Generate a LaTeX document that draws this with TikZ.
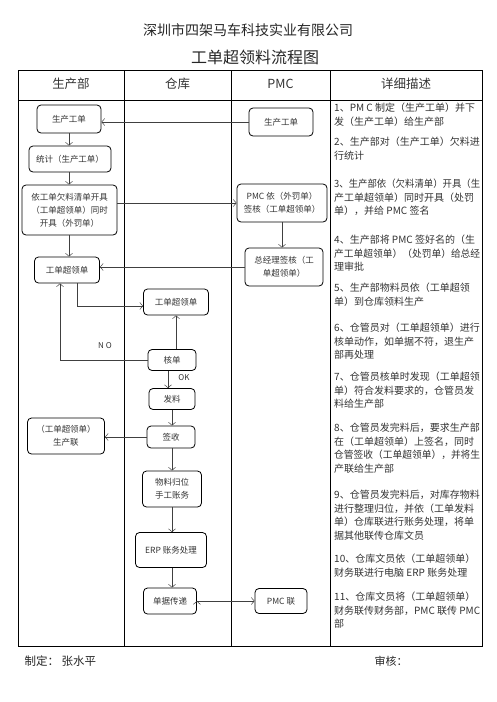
\documentclass[tikz,border=0pt]{standalone}
\usepackage{fontspec}
\setmainfont{Noto Sans CJK SC}
\usepackage{graphicx}
\usetikzlibrary{arrows.meta}

% squeeze a description line that is wider than the column
\newlength\desclen
\newcommand\dline[1]{\settowidth\desclen{#1}%
  \ifdim\desclen>146pt\resizebox{146pt}{\height}{#1}\else#1\fi}

\tikzset{
  proc/.style={draw, rounded corners=4pt, line width=0.8pt, inner sep=1pt,
    align=center, text=black!80, font=\fontsize{8.5}{13}\selectfont},
  head/.style={text=black!80, font=\fontsize{12.5}{14}\selectfont},
  desc/.style={anchor=north west, inner sep=0pt, align=left, text=black!80,
    font=\fontsize{10}{13.5}\selectfont},
  flow/.style={->, line width=0.5pt, draw=black!75},
  grid/.style={line width=0.8pt}
}

\begin{document}
\begin{tikzpicture}[x=1pt,y=-1pt,>={Straight Barb[length=3pt,width=7pt]}]
\useasboundingbox (0,0) rectangle (496,702);

% titles
\node[font=\fontsize{14}{16}\selectfont, text=black!85] (title) at (248,30) {深圳市四架马车科技实业有限公司};
\node[font=\fontsize{16}{18}\selectfont, text=black!85] (subtitle) at (255,57) {工单超领料流程图};

% table
\draw[grid] (18,70) rectangle (482,646);
\draw[grid] (18,100) -- (482,100);
\foreach \x in {124,231,330}
  \draw[grid] (\x,70) -- (\x,646);

\node[head] (HSC) at (71,84) {生产部};
\node[head] (HCK) at (177.5,84) {仓库};
\node[head] (HPMC) at (280.5,84) {PMC};
\node[head] (HXX) at (406,84) {详细描述};

% production
\node[proc, minimum width=64pt, minimum height=28pt] (SCGD) at (69,119) {生产工单};
\node[proc, minimum width=82pt, minimum height=26pt] (TJ) at (70,159) {统计（生产工单）};
\node[proc, minimum width=95pt, minimum height=50pt] (KJ) at (69.5,210) {依工单欠料清单开具\\（工单超领单）同时\\开具（外罚单）};
\node[proc, minimum width=65pt, minimum height=26pt] (CLD) at (67,270) {工单超领单};
\node[proc, minimum width=77pt, minimum height=36pt] (SCL) at (66,436) {（工单超领单）\\生产联};

% PMC
\node[proc, minimum width=64pt, minimum height=28pt] (PGD) at (281,122) {生产工单};
\node[proc, minimum width=90pt, minimum height=38pt] (PQH) at (282,203) {PMC 依（外罚单）\\签核（工单超领单）};
\node[proc, minimum width=78pt, minimum height=38pt] (ZJL) at (284,267) {总经理签核（工\\单超领单）};
\node[proc, minimum width=52pt, minimum height=25pt] (PL) at (281,601) {PMC 联};

% warehouse
\node[proc, minimum width=65pt, minimum height=26pt] (CLW) at (176,302) {工单超领单};
\node[proc, minimum width=48pt, minimum height=21pt] (HD) at (172,360) {核单};
\node[proc, minimum width=46pt, minimum height=21pt] (FL) at (172,399) {发料};
\node[proc, minimum width=48pt, minimum height=22pt] (QS) at (171,437) {签收};
\node[proc, minimum width=59pt, minimum height=36pt] (GW) at (172,489) {物料归位\\手工账务};
\node[proc, minimum width=71pt, minimum height=35pt] (ERP) at (171,550) {ERP 账务处理};
\node[proc, minimum width=53pt, minimum height=26pt] (DJ) at (170,601) {单据传递};

\node[font=\fontsize{8}{10}\selectfont, text=black!80] (NO) at (105,346) {N O};
\node[font=\fontsize{8}{10}\selectfont, text=black!80] (OK) at (184,378) {OK};

\path[flow]
  (PGD.west) edge (SCGD.east |- PGD.west)
  (SCGD.south) edge (SCGD.south |- TJ.north)
  (TJ.south -| SCGD.south) edge (KJ.north -| SCGD.south)
  (KJ.east |- PQH.west) edge (PQH.west)
  (PQH.south) edge (PQH.south |- ZJL.north)
  (ZJL.west) edge (CLD.east |- ZJL.west)
  (KJ.south -| SCGD.south) edge (CLD.north -| SCGD.south)
  (HD.north -| CLW.south) edge (CLW.south)
  ([xshift=-4pt]HD.south) edge ([xshift=-4pt]HD.south |- FL.north)
  (FL.south) edge (FL.south |- QS.north)
  (QS.west) edge (SCL.east |- QS.west)
  (QS.south -| FL.south) edge (GW.north -| FL.south)
  (GW.south) edge (GW.south |- ERP.north)
  (ERP.south -| FL.south) edge (DJ.north -| FL.south)
  (DJ.east) edge (PL.west);
\draw[flow] ([xshift=10pt]CLD.south) |- ([yshift=-4pt]CLW.west);
\draw[flow] (HD.west) -| ([xshift=-7pt]CLD.south);

% description
\node[desc] (D1) at (334,103) {\dline{1、PM C 制定（生产工单）并下}\\发（生产工单）给生产部};
\node[desc] (D2) at (334,137) {\dline{2、生产部对（生产工单）欠料进}\\行统计};
\node[desc] (D3) at (334,179) {\dline{3、生产部依（欠料清单）开具（生}\\\dline{产工单超领单）同时开具（处罚}\\单），并给 PMC 签名};
\node[desc] (D4) at (334,235) {\dline{4、生产部将 PMC 签好名的（生}\\\dline{产工单超领单）（处罚单）给总经}\\理审批};
\node[desc] (D5) at (334,283) {\dline{5、生产部物料员依（工单超领}\\单）到仓库领料生产};
\node[desc] (D6) at (334,323) {\dline{6、仓管员对（工单超领单）进行}\\\dline{核单动作，如单据不符，退生产}\\部再处理};
\node[desc] (D7) at (334,372) {\dline{7、仓管员核单时发现（工单超领}\\\dline{单）符合发料要求的，仓管员发}\\料给生产部};
\node[desc] (D8) at (334,423) {\dline{8、仓管员发完料后，要求生产部}\\\dline{在（工单超领单）上签名，同时}\\\dline{仓管签收（工单超领单），并将生}\\产联给生产部};
\node[desc] (D9) at (334,490) {\dline{9、仓管员发完料后，对库存物料}\\\dline{进行整理归位，并依（工单发料}\\\dline{单）仓库联进行账务处理，将单}\\据其他联传仓库文员};
\node[desc] (D10) at (334,554) {\dline{10、仓库文员依（工单超领单）}\\\dline{财务联进行电脑 ERP 账务处理}};
\node[desc] (D11) at (334,592) {\dline{11、仓库文员将（工单超领单）}\\\dline{财务联传财务部，PMC 联传 PMC}\\部};

% footer
\node[anchor=west, text=black!85, font=\fontsize{11.5}{13}\selectfont] (ZD) at (21,661) {制定： 张水平};
\node[anchor=west, text=black!85, font=\fontsize{11}{13}\selectfont] (SH) at (371,661) {审核：};
\end{tikzpicture}
\end{document}
